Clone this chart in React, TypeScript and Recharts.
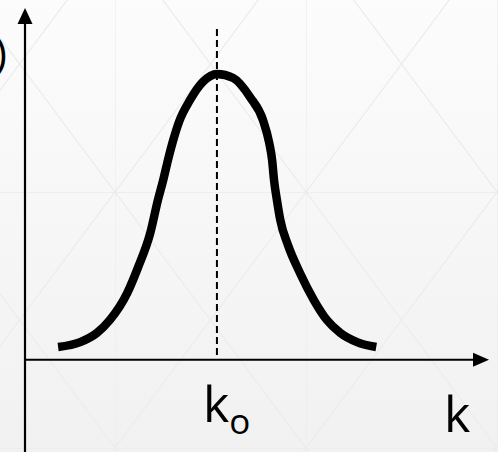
import { LineChart, Line, XAxis, YAxis, ReferenceLine } from 'recharts';

// wave-number samples (k0 = 4)
const kValues = [
  0.69, 1.15, 1.5, 1.77, 2.13, 2.36, 2.61, 2.77, 2.88, 2.98, 3.09, 3.21, 3.44, 3.71, 4.0,
  4.34, 4.69, 4.96, 5.09, 5.15, 5.19, 5.25, 5.32, 5.48, 5.73, 6.02, 6.29, 6.57, 6.92, 7.32,
];
const amplitude = [
  0.044, 0.061, 0.093, 0.138, 0.231, 0.322, 0.439, 0.554, 0.623, 0.693, 0.762, 0.825, 0.901, 0.964, 0.991,
  0.977, 0.911, 0.831, 0.752, 0.693, 0.623, 0.554, 0.485, 0.398, 0.301, 0.207, 0.138, 0.093, 0.061, 0.044,
];
const K0 = 4;
const K_MAX = 9.67;
const Y_MIN = -0.32;
const Y_MAX = 1.22;
const DASH_TOP = 1.147;
const axisLabel = 'k';
const peakLabel = 'k';
const peakSub = 'o';
const yLabel = 'A(k)';

const curve = kValues.map((k, i) => ({ k, a: amplitude[i] }));

const FONT = '"Open Sans", sans-serif';

const bgPattern =
  "url(\"data:image/svg+xml;utf8,<svg xmlns='http://www.w3.org/2000/svg' width='191' height='256'>" +
  "<path d='M0 0V256M0 0H191M0 0L191 256M191 0L0 256' stroke='%23ececec' stroke-width='1.3' fill='none'/></svg>\")";

const xArrow = (p: any) => {
  const xs = Math.min(p.x1, p.x2);
  const xe = Math.max(p.x1, p.x2);
  const y = p.y1;
  return (
    <g>
      <line x1={xs} y1={y} x2={xe - 10} y2={y} stroke="#000" strokeWidth={2.2} />
      <polygon points={`${xe},${y} ${xe - 16},${y - 7} ${xe - 16},${y + 7}`} fill="#000" />
    </g>
  );
};

const yArrow = (p: any) => {
  const ys = Math.min(p.y1, p.y2);
  const ye = Math.max(p.y1, p.y2);
  const x = p.x1;
  return (
    <g>
      <line x1={x} y1={ys + 10} x2={x} y2={ye} stroke="#000" strokeWidth={2.2} />
      <polygon points={`${x},${ys} ${x - 7.5},${ys + 16} ${x + 7.5},${ys + 16}`} fill="#000" />
    </g>
  );
};

const dashLine = (p: any) => (
  <line x1={p.x1} y1={Math.min(p.y1, p.y2)} x2={p.x2} y2={Math.max(p.y1, p.y2)} stroke="#000" strokeWidth={2} strokeDasharray="7 4" />
);

export default function App() {
  return (
    <div
      style={{
        width: 498,
        height: 452,
        backgroundColor: '#f7f7f7',
        backgroundImage: `${bgPattern}, linear-gradient(#fcfcfc, #f1f1f1)`,
        backgroundPosition: '115px 192px, 0 0',
        backgroundRepeat: 'repeat, no-repeat',
      }}
    >
      <style>{'body{margin:0}'}</style>
      <LineChart width={498} height={452} data={curve} margin={{ top: 8, right: 9, bottom: 0, left: 25 }}>
        <XAxis type="number" dataKey="k" domain={[0, K_MAX]} hide />
        <YAxis type="number" domain={[Y_MIN, Y_MAX]} hide />
        <ReferenceLine
          x={0}
          shape={yArrow}
          label={(props: any) => {
            const vb = props.viewBox;
            return (
              <text x={vb.x - 18} y={vb.y + 60} textAnchor="end" fontFamily={FONT} fontSize={42} fill="#000">
                {yLabel}
              </text>
            );
          }}
        />
        <ReferenceLine
          y={0}
          shape={xArrow}
          label={(props: any) => {
            const vb = props.viewBox;
            return (
              <text x={vb.x + vb.width - 45} y={vb.y + 72} fontFamily={FONT} fontSize={50} fill="#000">
                {axisLabel}
              </text>
            );
          }}
        />
        <ReferenceLine
          segment={[{ x: K0, y: DASH_TOP }, { x: K0, y: 0 }]}
          shape={dashLine}
          ifOverflow="visible"
          label={(props: any) => {
            const vb = props.viewBox;
            return (
              <text x={vb.x - 14} y={vb.y + vb.height + 62} fontFamily={FONT} fontSize={50} fill="#000">
                {peakLabel}
                <tspan fontSize={35} dy={12}>{peakSub}</tspan>
              </text>
            );
          }}
        />
        <Line
          type="monotone"
          dataKey="a"
          stroke="#000"
          strokeWidth={8.5}
          dot={false}
          activeDot={false}
          isAnimationActive={false}
        />
      </LineChart>
    </div>
  );
}
